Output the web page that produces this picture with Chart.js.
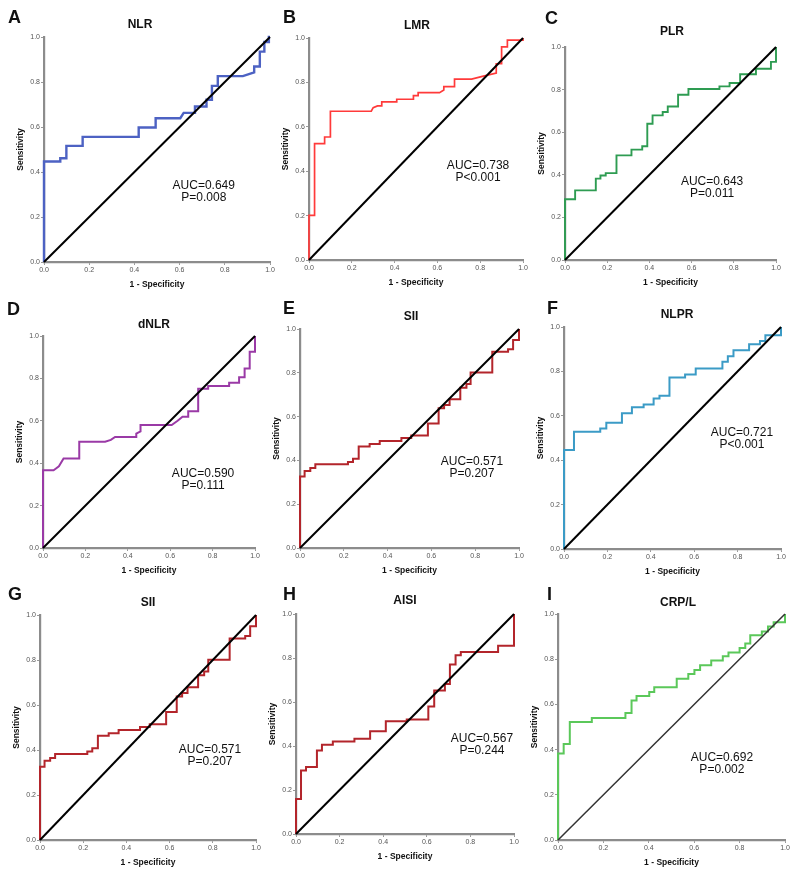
<!DOCTYPE html>
<html>
<head>
<meta charset="utf-8">
<script src="https://cdn.jsdelivr.net/npm/chart.js@4/dist/chart.umd.min.js"></script>
<style>
  body { margin: 0; background: #fff; width: 800px; height: 879px; position: relative; overflow: hidden; }
  .panel { position: absolute; }
</style>
</head>
<body>
<script>
// ROC curves: [1 - specificity, sensitivity]
const nlrRoc = [[0,0],[0,0.447],[0.072,0.447],[0.072,0.461],[0.099,0.461],[0.099,0.516],[0.171,0.516],[0.171,0.556],[0.419,0.556],[0.419,0.598],[0.494,0.598],[0.494,0.639],[0.603,0.639],[0.618,0.663],[0.668,0.663],[0.668,0.691],[0.719,0.691],[0.719,0.721],[0.743,0.721],[0.743,0.783],[0.769,0.783],[0.769,0.826],[0.88,0.826],[0.93,0.843],[0.93,0.869],[0.955,0.869],[0.955,0.935],[0.975,0.935],[0.975,0.978],[0.995,0.978],[0.995,1],[1,1]];
const lmrRoc = [[0,0],[0,0.201],[0.026,0.201],[0.026,0.524],[0.073,0.524],[0.073,0.554],[0.1,0.554],[0.1,0.670],[0.291,0.670],[0.30,0.686],[0.32,0.694],[0.34,0.694],[0.34,0.712],[0.41,0.712],[0.41,0.724],[0.488,0.724],[0.488,0.74],[0.51,0.74],[0.51,0.754],[0.61,0.754],[0.63,0.766],[0.63,0.781],[0.68,0.781],[0.68,0.815],[0.76,0.815],[0.81,0.827],[0.875,0.842],[0.875,0.884],[0.90,0.884],[0.90,0.96],[0.927,0.96],[0.927,0.99],[1,0.99],[1,1]];
const plrRoc = [[0,0],[0,0.285],[0.048,0.285],[0.048,0.327],[0.146,0.327],[0.146,0.382],[0.168,0.382],[0.168,0.397],[0.193,0.397],[0.193,0.408],[0.244,0.408],[0.244,0.491],[0.315,0.491],[0.315,0.518],[0.366,0.518],[0.366,0.534],[0.39,0.534],[0.39,0.640],[0.415,0.640],[0.415,0.679],[0.463,0.679],[0.463,0.695],[0.487,0.695],[0.487,0.721],[0.536,0.721],[0.536,0.776],[0.585,0.776],[0.585,0.803],[0.732,0.803],[0.732,0.815],[0.78,0.815],[0.78,0.831],[0.83,0.831],[0.83,0.872],[0.905,0.872],[0.905,0.898],[0.976,0.898],[0.976,0.930],[1,0.930],[1,1]];
const dnlrRoc = [[0,0],[0,0.367],[0.05,0.367],[0.075,0.385],[0.097,0.422],[0.171,0.422],[0.171,0.501],[0.293,0.501],[0.32,0.51],[0.34,0.524],[0.44,0.524],[0.44,0.54],[0.46,0.55],[0.46,0.58],[0.607,0.58],[0.635,0.60],[0.658,0.619],[0.685,0.619],[0.685,0.645],[0.732,0.645],[0.732,0.751],[0.779,0.751],[0.779,0.764],[0.878,0.764],[0.878,0.78],[0.925,0.78],[0.925,0.805],[0.951,0.805],[0.951,0.847],[0.975,0.847],[0.975,0.926],[1,0.926],[1,1]];
const siiRoc = [[0,0],[0,0.326],[0.021,0.326],[0.021,0.352],[0.047,0.352],[0.047,0.365],[0.07,0.365],[0.07,0.382],[0.219,0.382],[0.219,0.393],[0.242,0.393],[0.242,0.408],[0.268,0.408],[0.268,0.463],[0.318,0.463],[0.318,0.475],[0.364,0.475],[0.364,0.489],[0.463,0.489],[0.463,0.502],[0.508,0.502],[0.508,0.514],[0.584,0.514],[0.584,0.569],[0.633,0.569],[0.633,0.638],[0.658,0.638],[0.658,0.653],[0.683,0.653],[0.683,0.679],[0.732,0.679],[0.732,0.732],[0.760,0.732],[0.760,0.749],[0.779,0.749],[0.779,0.801],[0.878,0.801],[0.878,0.896],[0.95,0.896],[0.95,0.907],[0.973,0.907],[0.973,0.95],[1,0.95],[1,1]];
const nlprRoc = [[0,0],[0,0.446],[0.046,0.446],[0.046,0.528],[0.167,0.528],[0.167,0.543],[0.195,0.543],[0.195,0.569],[0.267,0.569],[0.267,0.611],[0.313,0.611],[0.313,0.638],[0.367,0.638],[0.367,0.651],[0.413,0.651],[0.413,0.678],[0.44,0.678],[0.44,0.690],[0.486,0.690],[0.486,0.772],[0.558,0.772],[0.558,0.786],[0.607,0.786],[0.607,0.813],[0.730,0.813],[0.730,0.843],[0.755,0.843],[0.755,0.868],[0.781,0.868],[0.781,0.895],[0.853,0.895],[0.853,0.922],[0.903,0.922],[0.903,0.937],[0.928,0.937],[0.928,0.963],[1,0.963],[1,1]];
const aisiRoc = [[0,0],[0,0.159],[0.023,0.159],[0.023,0.289],[0.046,0.289],[0.046,0.305],[0.096,0.305],[0.096,0.380],[0.119,0.380],[0.119,0.406],[0.169,0.406],[0.169,0.421],[0.268,0.421],[0.268,0.433],[0.340,0.433],[0.340,0.467],[0.412,0.467],[0.412,0.512],[0.508,0.512],[0.508,0.521],[0.607,0.521],[0.607,0.580],[0.634,0.580],[0.634,0.652],[0.683,0.652],[0.683,0.682],[0.706,0.682],[0.706,0.770],[0.732,0.770],[0.732,0.812],[0.756,0.812],[0.756,0.827],[0.927,0.827],[0.927,0.856],[1,0.856],[1,1]];
const crplRoc = [[0,0],[0,0.383],[0.025,0.383],[0.025,0.425],[0.052,0.425],[0.052,0.522],[0.149,0.522],[0.149,0.540],[0.297,0.540],[0.297,0.562],[0.324,0.562],[0.324,0.617],[0.346,0.617],[0.346,0.637],[0.402,0.637],[0.402,0.655],[0.424,0.655],[0.424,0.676],[0.523,0.676],[0.523,0.714],[0.574,0.714],[0.574,0.735],[0.601,0.735],[0.601,0.752],[0.626,0.752],[0.626,0.773],[0.675,0.773],[0.675,0.794],[0.726,0.794],[0.726,0.813],[0.751,0.813],[0.751,0.830],[0.8,0.830],[0.8,0.850],[0.825,0.850],[0.825,0.869],[0.847,0.869],[0.847,0.906],[0.898,0.906],[0.898,0.923],[0.925,0.923],[0.925,0.945],[0.95,0.945],[0.95,0.963],[1,0.963],[1,1]];
const refLine = [[0,0],[1,1]];

const letters = ['A','B','C','D','E','F','G','H','I'];
const titles = ['NLR','LMR','PLR','dNLR','SII','NLPR','SII','AISI','CRP/L'];
const aucLabels = ['AUC=0.649','AUC=0.738','AUC=0.643','AUC=0.590','AUC=0.571','AUC=0.721','AUC=0.571','AUC=0.567','AUC=0.692'];
const pLabels = ['P=0.008','P<0.001','P=0.011','P=0.111','P=0.207','P<0.001','P=0.207','P=0.244','P=0.002'];
const curves = [nlrRoc, lmrRoc, plrRoc, dnlrRoc, siiRoc, nlprRoc, siiRoc, aisiRoc, crplRoc];
const axisTicks = [0, 0.2, 0.4, 0.6, 0.8, 1.0];

// layout of each panel on the page (plot box in px, text anchors)
const layout = [
  { box: [44, 37, 270, 262],  color: '#4d62c3', lw: 2.4, letter: [8, 23],    title: [140, 25],  text: [0.707, 0.338] },
  { box: [309, 38, 523, 260], color: '#ff3a3a', lw: 1.7, letter: [283, 23],  title: [417, 26],  text: [0.79, 0.423] },
  { box: [565, 47, 776, 260], color: '#2e9c52', lw: 1.9, letter: [545, 24],  title: [672, 32],  text: [0.697, 0.366] },
  { box: [43, 336, 255, 548], color: '#9a3aa6', lw: 2,   letter: [7, 315],   title: [154, 325], text: [0.755, 0.349] },
  { box: [300, 329, 519, 548], color: '#b3252b', lw: 2,  letter: [283, 314], title: [411, 317], text: [0.785, 0.393] },
  { box: [564, 327, 781, 549], color: '#3b9bc6', lw: 2,  letter: [547, 314], title: [677, 315], text: [0.82, 0.523] },
  { box: [40, 615, 256, 840], color: '#b3252b', lw: 2,   letter: [8, 600],   title: [148, 603], text: [0.787, 0.40] },
  { box: [296, 614, 514, 834], color: '#b3252b', lw: 2,  letter: [283, 600], title: [405, 601], text: [0.853, 0.432] },
  { box: [558, 614, 785, 840], color: '#5bc85a', lw: 2,  letter: [547, 600], title: [678, 603], text: [0.722, 0.363] }
];

const FONT = '"Liberation Sans", Arial, sans-serif';

// titles, panel letters and AUC labels
const panelText = {
  id: 'panelText',
  afterDatasetsDraw(chart, args, opts) {
    const { ctx, scales } = chart;
    ctx.save();
    ctx.fillStyle = '#111';
    ctx.textAlign = 'center';
    ctx.textBaseline = 'middle';
    ctx.font = 'bold 12px ' + FONT;
    ctx.fillText(opts.title, opts.titleX, opts.titleY);
    ctx.font = '12px ' + FONT;
    const x = scales.x.getPixelForValue(opts.textAt[0]);
    const y = scales.y.getPixelForValue(opts.textAt[1]);
    ctx.fillText(opts.auc, x, y);
    ctx.fillText(opts.p, x, y + 11.5);
    ctx.textAlign = 'left';
    ctx.textBaseline = 'alphabetic';
    ctx.font = 'bold 18px ' + FONT;
    ctx.fillText(opts.letter, opts.letterX, opts.letterY);
    ctx.restore();
  }
};

function axis(titleText, isX) {
  return {
    type: 'linear',
    min: 0,
    max: 1,
    afterBuildTicks: s => { s.ticks = axisTicks.map(v => ({ value: v })); },
    afterFit: s => { if (isX) s.height = 28; else s.width = 28; },
    ticks: {
      font: { family: FONT, size: 7 },
      color: '#555',
      padding: 1,
      maxRotation: 0,
      autoSkip: false,
      callback: v => v.toFixed(1)
    },
    grid: { drawOnChartArea: false, tickLength: 3, color: '#999' },
    border: { color: '#8c8c8c', width: 2.2 },
    title: {
      display: true,
      text: titleText,
      color: '#111',
      padding: 0,
      font: { family: FONT, size: 8.5, weight: 'bold' }
    }
  };
}

function makePanel(i) {
  const lay = layout[i];
  const [L, T, R, B] = lay.box;
  const left = L - 44, top = T - 40;
  const w = R - L + 54, h = B - T + 68;

  const div = document.createElement('div');
  div.className = 'panel';
  div.style.left = left + 'px';
  div.style.top = top + 'px';
  const canvas = document.createElement('canvas');
  canvas.width = w;
  canvas.height = h;
  div.appendChild(canvas);
  document.body.appendChild(div);

  new Chart(canvas, {
    type: 'line',
    data: {
      datasets: [
        {
          data: refLine.map(p => ({ x: p[0], y: p[1] })),
          borderColor: i === 8 ? '#333' : '#000',
          borderWidth: i === 8 ? 1.5 : 2,
          pointRadius: 0,
          clip: 3
        },
        {
          data: curves[i].map(p => ({ x: p[0], y: p[1] })),
          borderColor: lay.color,
          borderWidth: lay.lw,
          pointRadius: 0,
          tension: 0,
          clip: 3
        }
      ]
    },
    options: {
      responsive: false,
      animation: false,
      devicePixelRatio: 1,
      layout: { padding: { left: 16, top: 40, right: 10, bottom: 0 } },
      plugins: {
        legend: { display: false },
        tooltip: { enabled: false },
        panelText: {
          title: titles[i],
          titleX: lay.title[0] - left,
          titleY: lay.title[1] - top,
          letter: letters[i],
          letterX: lay.letter[0] - left,
          letterY: lay.letter[1] - top,
          auc: aucLabels[i],
          p: pLabels[i],
          textAt: lay.text
        }
      },
      scales: {
        x: axis('1 - Specificity', true),
        y: axis('Sensitivity', false)
      }
    },
    plugins: [panelText]
  });
}

for (let i = 0; i < 9; i++) makePanel(i);
</script>
</body>
</html>
